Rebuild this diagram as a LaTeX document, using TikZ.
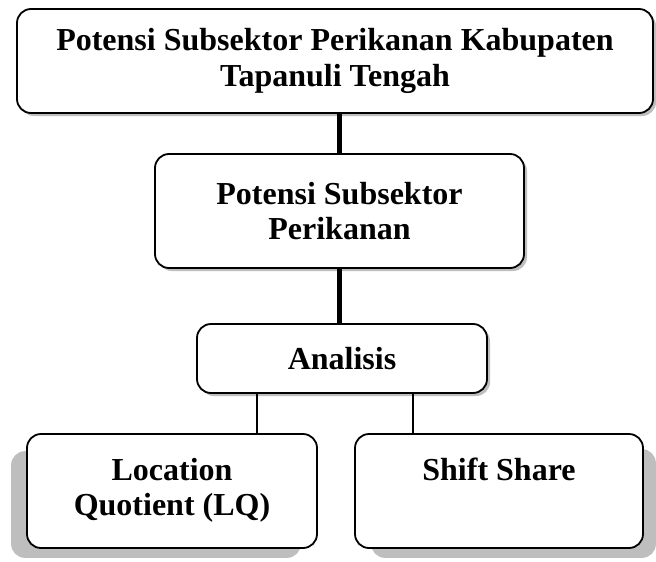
\documentclass[tikz,border=0pt]{standalone}
\usepackage{fontspec}
\setmainfont{Liberation Serif}
\usetikzlibrary{shadows,backgrounds}
\definecolor{shadowgray}{RGB}{190,190,190}
\tikzset{
  box/.style={draw=black, line width=1.8pt, rounded corners=14pt, fill=white,
    inner sep=0pt, align=center,
    font=\fontsize{32}{35.5}\selectfont\bfseries},
  smallshadow/.style={drop shadow={shadow xshift=3pt, shadow yshift=-3pt, fill=shadowgray, opacity=1}},
  thickline/.style={line width=4.5pt},
  thinline/.style={line width=1.5pt},
  bigshadow/.style={fill=shadowgray, rounded corners=14pt}
}
\begin{document}
\begin{tikzpicture}[x=1pt,y=-1pt]
\useasboundingbox (0,0) rectangle (656,562);
% boxes
\node[box, smallshadow, minimum width=636pt, minimum height=104pt] (top) at (335,61)
  {Potensi Subsektor Perikanan Kabupaten\\Tapanuli Tengah};
\node[box, smallshadow, minimum width=369pt, minimum height=114pt] (mid) at (339.5,211)
  {Potensi Subsektor\\Perikanan};
\node[box, smallshadow, minimum width=290pt, minimum height=69pt] (ana) at (342,358.5)
  {Analisis};
\node[box, minimum width=290pt, minimum height=114pt] (lq) at (172,491)
  {\strut Location\\\strut Quotient (LQ)};
\node[box, minimum width=288pt, minimum height=114pt] (ss) at (499,491)
  {\strut Shift Share\\\strut};
% perspective shadows of the bottom boxes
\begin{scope}[on background layer]
  \fill[bigshadow] ([shift={(-15,18)}]lq.north west) rectangle ([shift={(-17,9)}]lq.south east);
  \fill[bigshadow] ([shift={(17,16)}]ss.north west) rectangle ([shift={(12,9)}]ss.south east);
\end{scope}
% connectors
\draw[thickline] (mid.north |- top.south) -- (mid.north);
\draw[thickline] (mid.south) -- (mid.south |- ana.north);
\draw[thinline] ([xshift=-85pt]ana.south) -- ([xshift=-85pt]ana.south |- lq.north);
\draw[thinline] ([xshift=71pt]ana.south) -- ([xshift=71pt]ana.south |- ss.north);
\end{tikzpicture}
\end{document}
